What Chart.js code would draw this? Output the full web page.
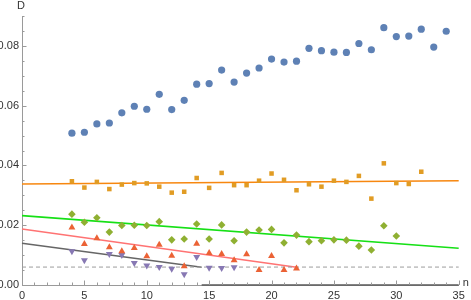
<!DOCTYPE html>
<html>
<head>
<meta charset="utf-8">
<script src="https://cdn.jsdelivr.net/npm/chart.js@4/dist/chart.umd.min.js"></script>
<style>
html,body{margin:0;padding:0;background:#fff;}
canvas{display:block;}
</style>
</head>
<body>
<canvas id="c" width="471" height="300"></canvas>
<script>
// ---- data ----
const nBlue = [4,5,6,7,8,9,10,11,12,13,14,15,16,17,18,19,20,21,22,23,24,25,26,27,28,29,30,31,32,33,34];
const dBlue = [0.0508,0.0511,0.0539,0.0542,0.0576,0.0598,0.0588,0.0638,0.0587,0.0618,0.0672,0.0674,0.0719,0.0679,0.0709,0.0726,0.0756,0.0746,0.0749,0.0792,0.0784,0.0779,0.0778,0.0808,0.0787,0.0861,0.0831,0.0833,0.0856,0.0796,0.0849];

const nOrange = [4,5,6,7,8,9,10,11,12,13,14,15,16,17,18,19,20,21,22,23,24,25,26,27,28,29,30,31,32];
const dOrange = [0.0347,0.0326,0.0345,0.0321,0.0336,0.0341,0.0340,0.0329,0.0309,0.0312,0.0358,0.0325,0.0375,0.0334,0.0334,0.0349,0.0373,0.0352,0.0317,0.0337,0.0329,0.0349,0.0345,0.0365,0.0289,0.0407,0.0341,0.0338,0.0379];

const nGreen = [4,5,6,7,8,9,10,11,12,13,14,15,16,17,18,19,20,21,22,23,24,25,26,27,28,29,30];
const dGreen = [0.0237,0.0210,0.0225,0.0177,0.0199,0.0200,0.0199,0.0212,0.0151,0.0154,0.0204,0.0154,0.0201,0.0148,0.0177,0.0184,0.0186,0.0141,0.0167,0.0145,0.0148,0.0151,0.0150,0.0130,0.0117,0.0198,0.0164];

const nRed = [4,5,6,7,8,9,10,11,12,13,14,15,16,17,18,19,20,21,22];
const dRed = [0.0192,0.0137,0.0156,0.0126,0.0113,0.0124,0.0096,0.0135,0.0098,0.0063,0.0138,0.0107,0.0104,0.0083,0.0103,0.0050,0.0097,0.0050,0.0055];

const nPurple = [4,5,7,8,9,10,11,12,13,14,15,16,17];
const dPurple = [0.0113,0.0083,0.0104,0.0100,0.0074,0.0065,0.0060,0.0054,0.0036,0.0094,0.0058,0.0057,0.0059];

// fitted lines: [n, D] endpoints
const fitOrange = [[0,0.0338],[35,0.0349]];
const fitGreen  = [[0,0.0232],[35,0.0123]];
const fitRed    = [[0,0.0187],[22,0.0059]];
const fitGray   = [[0,0.0140],[14.4,0.0059]];
const zeroSeg   = [[14.4,0],[35,0]];
const refLine   = [[0,0.006],[35,0.006]];

const xTicksMajor = [0,5,10,15,20,25,30,35];
const yTicksMajor = [0,0.02,0.04,0.06,0.08];

const pts = (xs, ys) => xs.map((x,i)=>({x:x, y:ys[i]}));
const seg = a => a.map(p=>({x:p[0], y:p[1]}));

function lineDs(data, color, width, dash){
  return {type:'line', data:seg(data), borderColor:color, borderWidth:width, borderDash:dash||[],
          pointRadius:0, fill:false, clip:false, order:2};
}
function ptDs(data, color, style, radius, rot){
  return {type:'scatter', data:data, backgroundColor:color, borderColor:color, borderWidth:0,
          pointStyle:style, pointRadius:radius, pointRotation:rot||0, clip:false, order:1};
}

const isMult = (v, s) => Math.abs(v/s - Math.round(v/s)) < 1e-6;

const tickPlugin = {
  id:'ticksIn',
  afterDraw(chart){
    const ctx = chart.ctx, xs = chart.scales.x, ys = chart.scales.y;
    const a = chart.chartArea;
    ctx.save();
    ctx.strokeStyle = '#9a9a9a';
    ctx.lineWidth = 1;
    ys.ticks.forEach(t=>{
      const py = Math.round(ys.getPixelForValue(t.value))+0.5;
      const len = isMult(t.value,0.02) ? 4.5 : 2.5;
      ctx.beginPath(); ctx.moveTo(a.left, py); ctx.lineTo(a.left+len, py); ctx.stroke();
    });
    xs.ticks.forEach(t=>{
      const px = Math.round(xs.getPixelForValue(t.value))+0.5;
      const len = isMult(t.value,5) ? 4.5 : 2.5;
      ctx.beginPath(); ctx.moveTo(px, a.bottom); ctx.lineTo(px, a.bottom-len); ctx.stroke();
    });
    ctx.fillStyle = '#333';
    ctx.font = '11px "Liberation Sans", Arial, sans-serif';
    ctx.textAlign = 'center'; ctx.textBaseline = 'middle';
    ctx.fillText('D', a.left-1, 6);
    ctx.textAlign = 'left';
    ctx.fillText('n', a.right+4, a.bottom-2);
    ctx.restore();
  }
};

new Chart(document.getElementById('c'), {
  data:{
    datasets:[
      lineDs(refLine, '#9c9c9c', 1, [4,3]),
      lineDs(zeroSeg, '#5a5a5a', 1.5),
      lineDs(fitGray, '#666666', 1.5),
      lineDs(fitRed, '#ff7373', 1.5),
      lineDs(fitGreen, '#16e016', 1.6),
      lineDs(fitOrange, '#f7870f', 1.6),
      ptDs(pts(nBlue,dBlue), '#5e81b5', 'circle', 3.6),
      ptDs(pts(nOrange,dOrange), '#e19c24', 'rect', 3.2),
      ptDs(pts(nGreen,dGreen), '#8fb032', 'rectRot', 3.8),
      ptDs(pts(nRed,dRed), '#eb6235', 'triangle', 4),
      ptDs(pts(nPurple,dPurple), '#8778b3', 'triangle', 4, 180)
    ]
  },
  options:{
    responsive:false,
    animation:false,
    events:[],
    layout:{padding:{left:0, right:12.3, top:16, bottom:0}},
    plugins:{legend:{display:false}, title:{display:false}, tooltip:{enabled:false}},
    scales:{
      x:{
        type:'linear', min:0, max:35,
        grid:{display:false, drawTicks:false},
        border:{display:true, color:'#9a9a9a', width:1},
        ticks:{stepSize:1, autoSkip:false, maxRotation:0, padding:4, color:'#333',
               font:{family:'"Liberation Sans", Arial, sans-serif', size:11},
               callback:(v)=> xTicksMajor.includes(Math.round(v*1000)/1000) ? String(Math.round(v)) : ''},
        afterFit:(s)=>{ s.height = 15; }
      },
      y:{
        type:'linear', min:0, max:0.09,
        grid:{display:false, drawTicks:false},
        border:{display:true, color:'#9a9a9a', width:1},
        ticks:{stepSize:0.005, autoSkip:false, padding:3, color:'#333',
               font:{family:'"Liberation Sans", Arial, sans-serif', size:11},
               callback:(v)=> yTicksMajor.some(m=>Math.abs(m-v)<1e-9) ? v.toFixed(2) : ''},
        afterFit:(s)=>{ s.width = 22; }
      }
    }
  },
  plugins:[tickPlugin]
});
</script>
</body>
</html>
